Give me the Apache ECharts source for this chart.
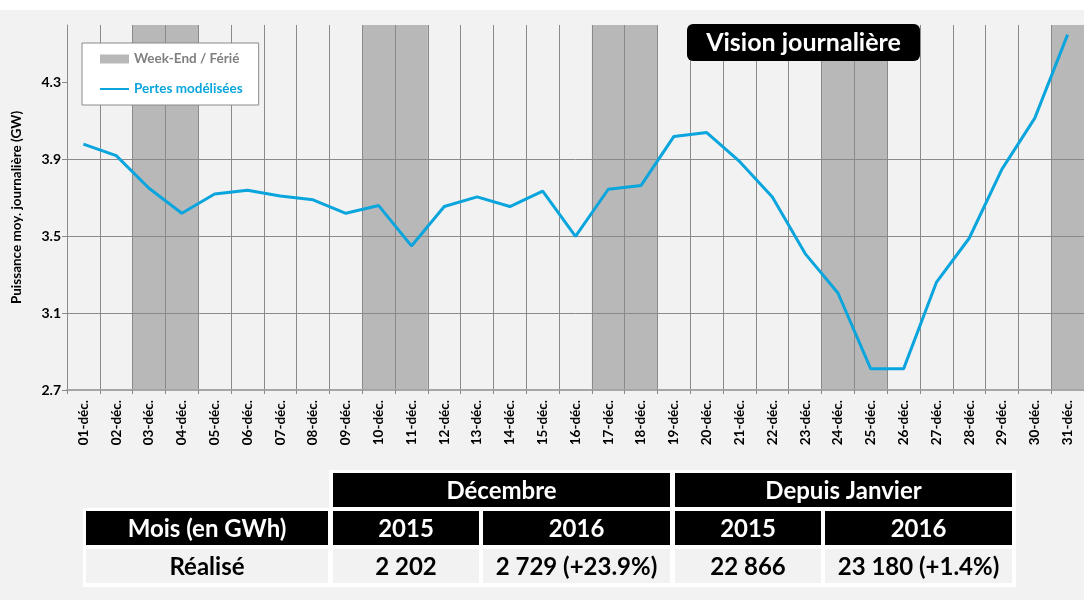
<!DOCTYPE html>
<html><head><meta charset="utf-8">
<script src="https://cdn.jsdelivr.net/npm/echarts@6/dist/echarts.min.js"></script>
<style>html,body{margin:0;padding:0;background:#f2f2f2;} #c{width:1084px;height:600px;}</style>
</head><body><div id="c"></div>
<script>
const days = ['01-déc.','02-déc.','03-déc.','04-déc.','05-déc.','06-déc.','07-déc.','08-déc.','09-déc.','10-déc.','11-déc.','12-déc.','13-déc.','14-déc.','15-déc.','16-déc.','17-déc.','18-déc.','19-déc.','20-déc.','21-déc.','22-déc.','23-déc.','24-déc.','25-déc.','26-déc.','27-déc.','28-déc.','29-déc.','30-déc.','31-déc.'];
const pertes = [3.98,3.92,3.75,3.62,3.72,3.74,3.71,3.69,3.62,3.66,3.45,3.655,3.705,3.655,3.735,3.50,3.745,3.765,4.02,4.04,3.89,3.705,3.41,3.205,2.81,2.81,3.26,3.49,3.85,4.115,4.55];
const weekend = [0,0,1,1,0,0,0,0,0,1,1,0,0,0,0,0,1,1,0,0,0,0,0,1,1,0,0,0,0,0,1];
const yTicks = [2.7,3.1,3.5,3.9,4.3];
const tableHead1 = ['Décembre','Depuis Janvier'];
const tableHead2 = ['Mois (en GWh)','2015','2016','2015','2016'];
const tableRow = ['Réalisé','2 202','2 729 (+23.9%)','22 866','23 180 (+1.4%)'];
const titleText = 'Vision journalière';

const FONT = 'Lato';
const colX = [[86,328],[333,479],[483,670],[675,821],[825,1012]];
const rowY = [[473,507],[511,545],[549,583]];

const g = [];
g.push({type:'rect', shape:{x:0,y:0,width:1084,height:10}, style:{fill:'#ffffff'}, silent:true});
// title box
g.push({type:'rect', shape:{x:687,y:24,width:233,height:37,r:6}, style:{fill:'#000'}, z:10});
g.push({type:'text', x:803.5, y:43, style:{text:titleText, align:'center', verticalAlign:'middle', font:'bold 25px '+FONT, fill:'#fff'}, z:11});
// table backgrounds
g.push({type:'rect', shape:{x:329,y:470,width:687,height:40}, style:{fill:'#fff'}});
g.push({type:'rect', shape:{x:83,y:508,width:933,height:79}, style:{fill:'#fff'}});
function cell(x0,x1,y0,y1,fill,text,color){
  g.push({type:'rect', shape:{x:x0,y:y0,width:x1-x0,height:y1-y0}, style:{fill:fill}});
  g.push({type:'text', x:(x0+x1)/2, y:(y0+y1)/2+1, style:{text:text, align:'center', verticalAlign:'middle', font:'bold 24px '+FONT, fill:color}});
}
cell(colX[1][0], colX[2][1], rowY[0][0], rowY[0][1], '#000', tableHead1[0], '#fff');
cell(colX[3][0], colX[4][1], rowY[0][0], rowY[0][1], '#000', tableHead1[1], '#fff');
tableHead2.forEach((t,i)=>cell(colX[i][0], colX[i][1], rowY[1][0], rowY[1][1], '#000', t, '#fff'));
tableRow.forEach((t,i)=>cell(colX[i][0], colX[i][1], rowY[2][0], rowY[2][1], '#f2f2f2', t, '#000'));

const chart = echarts.init(document.getElementById('c'));
const gridColor = '#8a8a8a';
chart.setOption({
  backgroundColor:'#f2f2f2',
  animation:false,
  textStyle:{fontFamily:FONT},
  grid:{left:67, right:0, top:25, bottom:210, containLabel:false},
  legend:{
    orient:'vertical', left:82, top:43, backgroundColor:'#fff', borderColor:gridColor, borderWidth:1,
    padding:[9,16,9,17], itemGap:16, itemWidth:29, itemHeight:9,
    textStyle:{fontFamily:FONT, fontWeight:'bold', fontSize:13.5},
    data:[
      {name:'Week-End / Férié', icon:'rect', textStyle:{color:'#7f7f7f'}},
      {name:'Pertes modélisées', itemStyle:{opacity:0}, textStyle:{color:'#0aa5dd'}}
    ]
  },
  xAxis:{
    type:'category', data:days, boundaryGap:true,
    axisLine:{lineStyle:{color:'#a6a6a6', width:2}},
    axisTick:{show:true, interval:0, length:4, lineStyle:{color:gridColor}},
    axisLabel:{interval:0, rotate:90, margin:10, fontFamily:FONT, fontWeight:'bold', fontSize:13.5, color:'#000'},
    splitLine:{show:true, interval:0, lineStyle:{color:gridColor, width:1}}
  },
  yAxis:[{
    type:'value', min:2.7, max:4.6, interval:0.4,
    axisLine:{show:true, lineStyle:{color:gridColor}},
    axisTick:{show:true, length:5, lineStyle:{color:gridColor}, customValues:yTicks},
    axisLabel:{fontFamily:FONT, fontWeight:'bold', fontSize:14, color:'#000', margin:6, customValues:yTicks, formatter:v=>Number(v).toFixed(1)},
    splitLine:{show:true, showMaxLine:false, lineStyle:{color:gridColor}},
    name:'Puissance moy. journalière (GW)', nameLocation:'middle', nameGap:43,
    nameTextStyle:{fontFamily:FONT, fontWeight:'bold', fontSize:13.5, color:'#000'}
  },{
    type:'value', min:0, max:1, show:false
  }],
  series:[
    {name:'Week-End / Férié', type:'bar', yAxisIndex:1, data:weekend, barWidth:'100%', itemStyle:{color:'#b8b8b8'}, z:-1, silent:true},
    {name:'Pertes modélisées', type:'line', data:pertes, symbol:'none', showSymbol:false, lineStyle:{color:'#0aa5dd', width:3}, itemStyle:{color:'#0aa5dd'}, z:3}
  ],
  graphic:g
});
</script>
</body></html>
